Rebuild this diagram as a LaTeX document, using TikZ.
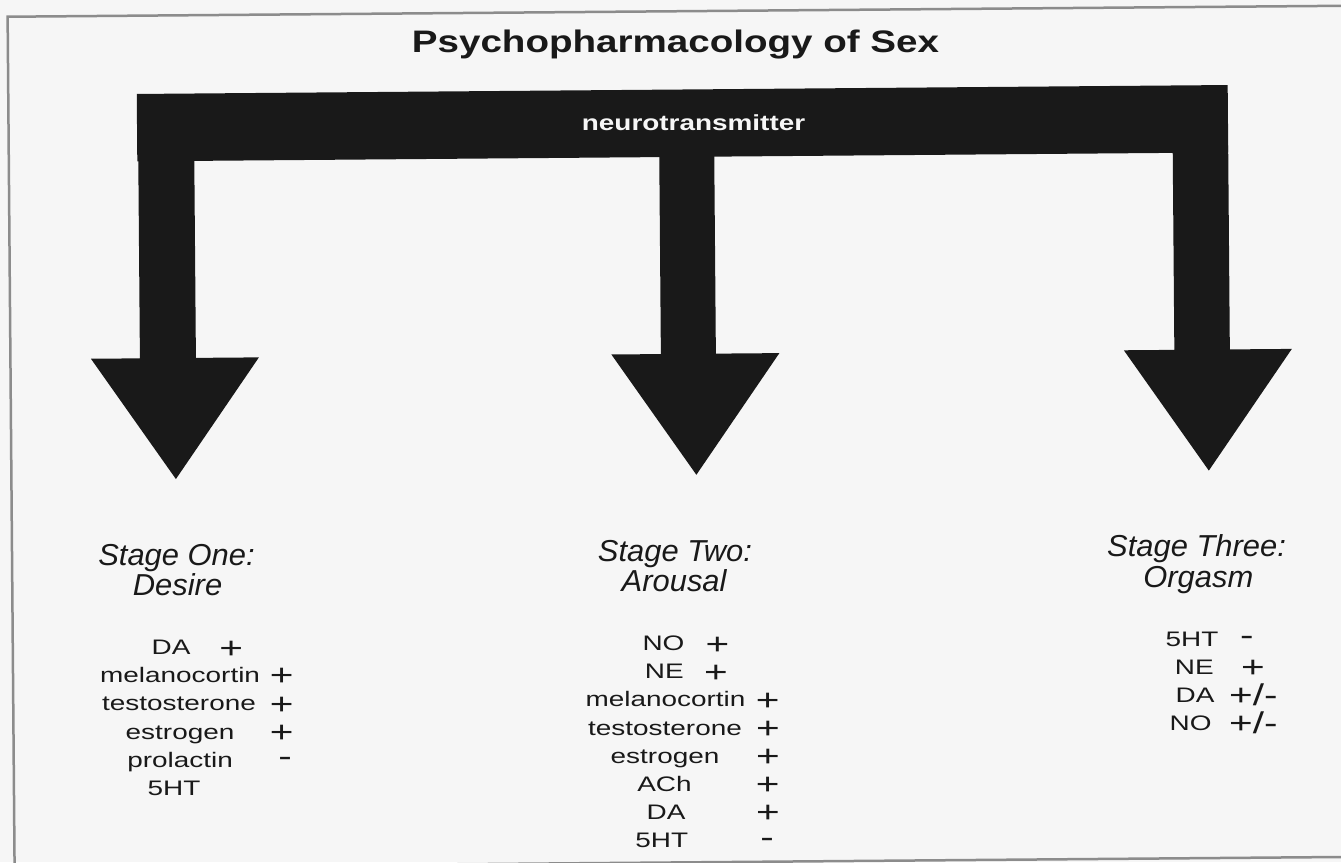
\documentclass[tikz,border=0pt]{standalone}
\usepackage{fontspec}
\setmainfont{Liberation Sans}
\newfontfamily\titlefont{Liberation Sans}[FakeStretch=1.24]
\newfontfamily\barfont{Liberation Sans}[FakeStretch=1.28]
\newfontfamily\headfont{Liberation Sans}[FakeStretch=1.02]
\newfontfamily\listfont{Liberation Sans}[FakeStretch=1.33]
\newfontfamily\signfont{Liberation Sans}[FakeStretch=1.35]
\definecolor{paper}{gray}{0.965}
\definecolor{ink}{gray}{0.1}
\definecolor{framecol}{gray}{0.55}
\tikzset{
  every node/.style={inner sep=0pt, outer sep=0pt, anchor=base, text=ink},
  ttl/.style={font=\titlefont\bfseries\fontsize{31.1}{36}\selectfont},
  bartext/.style={font=\barfont\bfseries\fontsize{21.8}{26}\selectfont, text=paper},
  stagehead/.style={font=\headfont\itshape\fontsize{30.3}{36}\selectfont},
  lst/.style={font=\listfont\fontsize{21}{25}\selectfont},
  sgn/.style={font=\signfont\fontsize{30}{36}\selectfont},
  inkfill/.style={fill=ink, draw=none},
  framebox/.style={draw=framecol, line width=2.5pt},
}
\begin{document}
\begin{tikzpicture}[x=1pt, y=-1pt]
  \useasboundingbox[fill=paper] (0,0) rectangle (1341,862);
  \begin{scope}[rotate around={0.47:(670,430)}]
    % frame
    \draw[framebox] (11,11.3) rectangle (1348,862.5);
    % title
    \node[ttl] (title) at (678.6,53) {Psychopharmacology of Sex};
    % bar and arrows
    \fill[inkfill] (139.5,89.6) rectangle (1230.5,157);
    \fill[inkfill] (140.5,150) -- (140.5,354) -- (91.5,354) -- (175.5,475) -- (259.5,354) -- (196.5,354) -- (196.5,150) -- cycle;
    \fill[inkfill] (661.5,150) -- (661.5,354) -- (612,354) -- (696,475) -- (780,354) -- (716.5,354) -- (716.5,150) -- cycle;
    \fill[inkfill] (1175,150) -- (1175,354) -- (1124.5,354) -- (1208.5,475) -- (1292.5,354) -- (1230.5,354) -- (1230.5,150) -- cycle;
    \node[bartext] (nt) at (696,130.9) {neurotransmitter};
    % headings
    \node[stagehead] (s1a) at (175.4,561.3) {Stage One:};
    \node[stagehead] (s1b) at (176.2,591.5) {Desire};
    \node[stagehead] (s2a) at (673.9,561.3) {Stage Two:};
    \node[stagehead] (s2b) at (672.8,591.5) {Arousal};
    \node[stagehead] (s3a) at (1195.5,561.3) {Stage Three:};
    \node[stagehead] (s3b) at (1197,591.5) {Orgasm};
    % stage one list
    \node[lst] (a1) at (169.2,650.5) {DA};
    \node[sgn] (a1s) at (229.2,654.5) {+};
    \node[lst] (a2) at (178,678.7) {melanocortin};
    \node[sgn] (a2s) at (279.7,682.7) {+};
    \node[lst] (a3) at (176.7,706.9) {testosterone};
    \node[sgn] (a3s) at (279.4,710.9) {+};
    \node[lst] (a4) at (177.5,735.1) {estrogen};
    \node[sgn] (a4s) at (279.2,739.1) {+};
    \node[lst] (a5) at (177.3,763.3) {prolactin};
    \node[sgn] (a5s) at (282.3,763.3) {-};
    \node[lst] (a6) at (171,791.5) {5HT};
    % stage two list
    \node[lst] (b1) at (661.7,650.5) {NO};
    \node[sgn] (b1s) at (715.7,654.5) {+};
    \node[lst] (b2) at (662.3,678.7) {NE};
    \node[sgn] (b2s) at (713.8,682.7) {+};
    \node[lst] (b3) at (663.2,706.9) {melanocortin};
    \node[sgn] (b3s) at (765.5,710.9) {+};
    \node[lst] (b4) at (662.5,735.1) {testosterone};
    \node[sgn] (b4s) at (765.3,739.1) {+};
    \node[lst] (b5) at (662.3,763.3) {estrogen};
    \node[sgn] (b5s) at (765.1,767.3) {+};
    \node[lst] (b6) at (661.5,791.5) {ACh};
    \node[sgn] (b6s) at (764.8,795.5) {+};
    \node[lst] (b7) at (662.8,819.7) {DA};
    \node[sgn] (b7s) at (764.6,823.7) {+};
    \node[lst] (b8) at (658.3,847.9) {5HT};
    \node[sgn] (b8s) at (763.6,847.9) {-};
    % stage three list
    \node[lst] (c1) at (1190.2,650.5) {5HT};
    \node[sgn] (c1s) at (1245.2,650.5) {-};
    \node[lst] (c2) at (1192.3,678.7) {NE};
    \node[sgn] (c2s) at (1251,682.7) {+};
    \node[lst] (c3) at (1192.8,706.9) {DA};
    \node[sgn] (c3s) at (1251.1,709.9) {+/-};
    \node[lst] (c4) at (1188.2,735.1) {NO};
    \node[sgn] (c4s) at (1250.8,738.1) {+/-};
  \end{scope}
\end{tikzpicture}
\end{document}
